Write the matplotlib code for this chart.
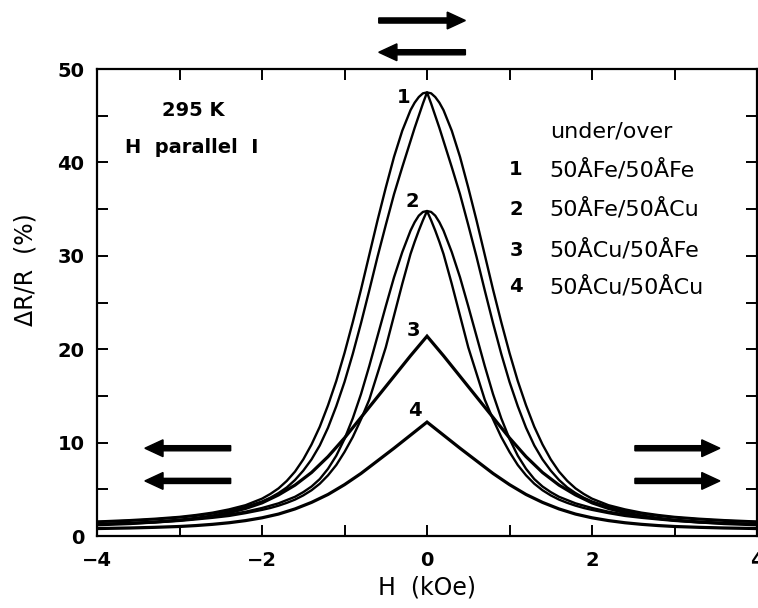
import numpy as np
import matplotlib
matplotlib.use('Agg')
from matplotlib import pyplot as plt
from matplotlib.ticker import MultipleLocator

# the loops are symmetric in H, so each branch is read off for H >= 0 (kOe)
# and mirrored to H < 0.  dR/R in %.
h_pk = [0, 0.05, 0.1, 0.15, 0.2, 0.3, 0.4, 0.5, 0.6, 0.7, 0.8, 0.9, 1.0, 1.1, 1.2, 1.3, 1.4,
        1.5, 1.6, 1.7, 1.8, 1.9, 2.0, 2.2, 2.4, 2.6, 2.8, 3.0, 3.3, 3.6, 4.0]

# sample 1: 50A Fe / 50A Fe, rounded (outer) and cusped (inner) branch
r1_outer = [47.5, 47.4, 47.0, 46.4, 45.6, 43.4, 40.6, 37.3, 33.8, 30.1, 26.4, 22.9, 19.6, 16.6, 14.0, 11.7, 9.8,
            8.2, 6.9, 5.9, 5.1, 4.5, 4.0, 3.3, 2.85, 2.5, 2.25, 2.05, 1.85, 1.7, 1.55]
r1_inner = [47.5, 46.3, 45.0, 43.7, 42.3, 39.5, 36.6, 33.3, 29.9, 26.3, 22.8, 19.5, 16.5, 13.9, 11.6, 9.7, 8.2,
            7.0, 6.0, 5.2, 4.6, 4.1, 3.7, 3.12, 2.72, 2.4, 2.16, 1.98, 1.78, 1.63, 1.5]

# sample 2: 50A Fe / 50A Cu
r2_outer = [34.8, 34.7, 34.3, 33.6, 32.7, 30.4, 27.7, 24.6, 21.4, 18.2, 15.2, 12.6, 10.4, 8.6, 7.2, 6.1, 5.3,
            4.7, 4.2, 3.85, 3.5, 3.25, 3.0, 2.6, 2.3, 2.05, 1.85, 1.7, 1.5, 1.4, 1.3]
r2_inner = [34.8, 33.8, 32.7, 31.5, 30.2, 27.0, 23.6, 20.2, 17.4, 14.6, 12.5, 10.6, 9.0, 7.6, 6.5, 5.6, 4.9,
            4.35, 3.9, 3.55, 3.25, 3.0, 2.8, 2.45, 2.15, 1.95, 1.78, 1.62, 1.45, 1.35, 1.25]

h_tri = [0, 0.2, 0.4, 0.6, 0.8, 1.0, 1.2, 1.4, 1.6, 1.8, 2.0, 2.2, 2.4, 2.6, 2.8, 3.0, 3.3, 3.6, 4.0]
# sample 3: 50A Cu / 50A Fe
r3 = [21.4, 19.3, 17.1, 14.9, 12.7, 10.5, 8.5, 6.8, 5.45, 4.4, 3.55, 2.95, 2.5, 2.15, 1.9, 1.7, 1.5, 1.33, 1.2]
# sample 4: 50A Cu / 50A Cu
r4 = [12.2, 10.8, 9.4, 8.05, 6.7, 5.5, 4.45, 3.6, 2.9, 2.35, 1.95, 1.65, 1.42, 1.25, 1.12, 1.02, 0.93, 0.86, 0.8]

legend_lines = ['50ÅFe/50ÅFe', '50ÅFe/50ÅCu', '50ÅCu/50ÅFe', '50ÅCu/50ÅCu']
legend_y = [39.2, 35.0, 30.6, 26.7]


def full(h, r):
    h = np.asarray(h, dtype=float)
    r = np.asarray(r, dtype=float)
    return np.r_[-h[:0:-1], h], np.r_[r[:0:-1], r]


plt.rcParams['font.family'] = 'DejaVu Sans'
plt.rcParams['font.weight'] = 'bold'

fig = plt.figure(figsize=(7.58, 6.08), dpi=100)
ax = fig.add_axes([0.128, 0.1184, 0.8707, 0.768])

for r in [r1_outer, r1_inner, r2_outer, r2_inner]:
    ax.plot(*full(h_pk, r), color='k', lw=1.7, solid_joinstyle='round')
for r in [r3, r4]:
    ax.plot(*full(h_tri, r), color='k', lw=2.3, solid_joinstyle='miter')

ax.set_xlim(-4, 4)
ax.set_ylim(0, 50)
ax.xaxis.set_major_locator(MultipleLocator(2))
ax.xaxis.set_minor_locator(MultipleLocator(1))
ax.yaxis.set_major_locator(MultipleLocator(10))
ax.yaxis.set_minor_locator(MultipleLocator(5))
ax.tick_params(which='both', direction='in', top=True, right=True, length=8, width=1.4)
ax.tick_params(axis='x', which='major', labelsize=14, pad=11)
ax.tick_params(axis='y', which='major', labelsize=14, pad=9)
for s in ax.spines.values():
    s.set_linewidth(1.6)

ax.set_xlabel('H  (kOe)', fontsize=17, labelpad=4)
ax.set_ylabel('ΔR/R  (%)', fontsize=17)
ax.yaxis.set_label_coords(-0.09, 0.57)

# curve numbers
ax.text(-0.28, 47.0, '1', fontsize=14, ha='center', va='center')
ax.text(-0.18, 35.8, '2', fontsize=14, ha='center', va='center')
ax.text(-0.16, 22.0, '3', fontsize=14, ha='center', va='center')
ax.text(-0.15, 13.4, '4', fontsize=14, ha='center', va='center')

ax.text(-3.21, 45.6, '295 K', fontsize=14, ha='left', va='center')
ax.text(-3.66, 41.6, 'H  parallel  I', fontsize=14, ha='left', va='center')

ax.text(1.49, 43.3, 'under/over', fontsize=16, ha='left', va='center', fontweight='normal')
for i, (yy, lab) in enumerate(zip(legend_y, legend_lines)):
    ax.text(1.08, yy, str(i + 1), fontsize=14, ha='center', va='center')
    ax.text(1.485, yy, lab, fontsize=16, ha='left', va='center', fontweight='normal')

# magnetisation arrows
arr = dict(width=0.55, head_width=1.8, head_length=0.22, length_includes_head=True,
           color='k', clip_on=False)
ax.arrow(-0.585, 55.2, 1.05, 0, **arr)
ax.arrow(0.465, 51.8, -1.05, 0, **arr)
ax.arrow(-2.38, 9.4, -1.04, 0, **arr)
ax.arrow(-2.38, 5.9, -1.04, 0, **arr)
ax.arrow(2.52, 9.4, 1.03, 0, **arr)
ax.arrow(2.52, 5.9, 1.03, 0, **arr)

plt.savefig('out.png', dpi=100)
